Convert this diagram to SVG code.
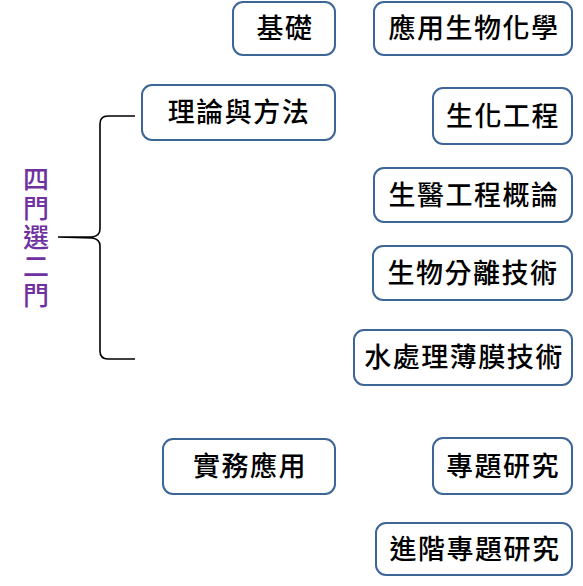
<svg xmlns="http://www.w3.org/2000/svg" width="583" height="586" viewBox="0 0 583 586">
<style>
.box{fill:#fff;stroke:#3d6596;stroke-width:2}
.t{font-family:"Noto Sans CJK TC","Noto Sans CJK SC",sans-serif;font-size:27px;font-weight:500;letter-spacing:1.5px;fill:#000;text-anchor:middle}
.p{font-family:"Noto Sans CJK TC","Noto Sans CJK SC",sans-serif;font-size:26px;font-weight:500;letter-spacing:3px;fill:#7030a0;writing-mode:vertical-rl}
.br{fill:none;stroke:#000;stroke-width:1.6}
</style>
<rect width="583" height="586" fill="#fff"/>
<g id="label">
<text class="p" x="36" y="166">四門選二門</text>
</g>
<g id="connectors">
<path class="br" d="M135,116 L108,116 Q100,116 100,124 L100,229 Q100,236 92,237 L58,237 L92,238 Q100,239 100,246 L100,351 Q100,359 108,359 L135,359"/>
</g>
<g id="n1"><rect class="box" x="233" y="2" width="102" height="53" rx="10"/><text class="t" x="285" y="38">基礎</text></g>
<g id="n2"><rect class="box" x="374" y="2" width="198" height="53" rx="10"/><text class="t" x="474" y="38">應用生物化學</text></g>
<g id="n3"><rect class="box" x="142" y="85" width="193" height="55" rx="10"/><text class="t" x="239" y="122">理論與方法</text></g>
<g id="n4"><rect class="box" x="433" y="88" width="139" height="56" rx="10"/><text class="t" x="503" y="126">生化工程</text></g>
<g id="n5"><rect class="box" x="374" y="168" width="198" height="54" rx="10"/><text class="t" x="474" y="205">生醫工程概論</text></g>
<g id="n6"><rect class="box" x="373" y="246" width="199" height="54" rx="10"/><text class="t" x="473" y="283">生物分離技術</text></g>
<g id="n7"><rect class="box" x="354" y="330" width="218" height="55" rx="10"/><text class="t" x="464" y="367">水處理薄膜技術</text></g>
<g id="n8"><rect class="box" x="163" y="439" width="172" height="55" rx="10"/><text class="t" x="250" y="476">實務應用</text></g>
<g id="n9"><rect class="box" x="433" y="438" width="139" height="56" rx="10"/><text class="t" x="503" y="476">專題研究</text></g>
<g id="n10"><rect class="box" x="376" y="523" width="196" height="52" rx="10"/><text class="t" x="475" y="559">進階專題研究</text></g>
</svg>
